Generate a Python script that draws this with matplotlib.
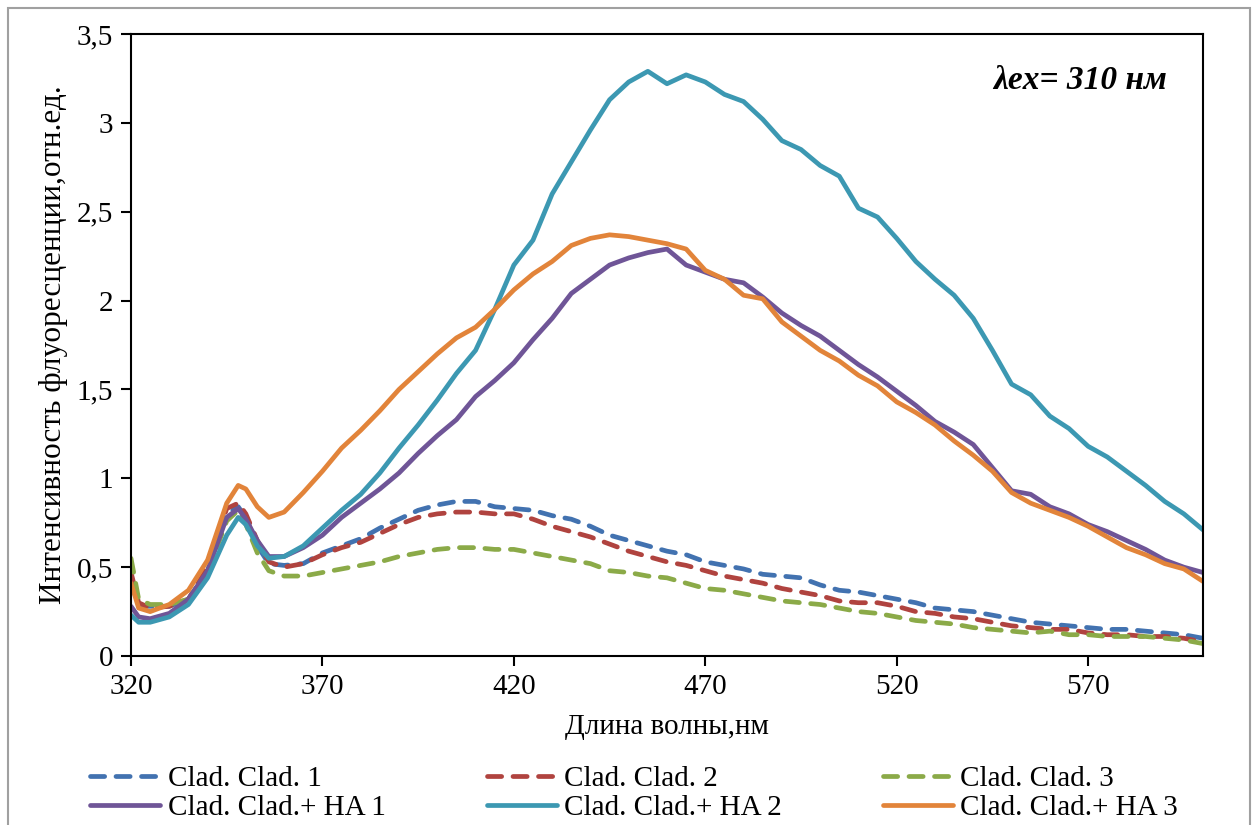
import matplotlib
matplotlib.use("Agg")
import matplotlib.pyplot as plt
from matplotlib.ticker import FuncFormatter, MultipleLocator
from matplotlib.patches import Rectangle

plt.rcParams['font.family'] = ['Liberation Serif', 'DejaVu Serif']

# wavelength grid, nm
wavelength = [320, 322, 325, 330, 335, 340, 345, 348, 350, 353, 356, 360, 365,
              370, 375, 380, 385, 390, 395, 400, 405, 410, 415, 420, 425, 430,
              435, 440, 445, 450, 455, 460, 465, 470, 475, 480, 485, 490, 495,
              500, 505, 510, 515, 520, 525, 530, 535, 540, 545, 550, 555, 560,
              565, 570, 575, 580, 585, 590, 595, 600]

clad_1 = [0.42, 0.28, 0.28, 0.28, 0.32, 0.48, 0.80, 0.84, 0.78, 0.62, 0.52, 0.51, 0.52,
          0.58, 0.62, 0.66, 0.72, 0.77, 0.82, 0.85, 0.87, 0.87, 0.84, 0.83, 0.82, 0.79,
          0.77, 0.73, 0.68, 0.65, 0.62, 0.59, 0.57, 0.53, 0.51, 0.49, 0.46, 0.45, 0.44,
          0.40, 0.37, 0.36, 0.34, 0.32, 0.30, 0.27, 0.26, 0.25, 0.23, 0.21, 0.19, 0.18,
          0.17, 0.16, 0.15, 0.15, 0.14, 0.13, 0.12, 0.10]

clad_2 = [0.47, 0.30, 0.27, 0.28, 0.32, 0.50, 0.83, 0.86, 0.80, 0.65, 0.53, 0.50, 0.52,
          0.57, 0.61, 0.64, 0.69, 0.74, 0.78, 0.80, 0.81, 0.81, 0.80, 0.80, 0.77, 0.73,
          0.70, 0.67, 0.63, 0.59, 0.56, 0.53, 0.51, 0.48, 0.45, 0.43, 0.41, 0.38, 0.36,
          0.34, 0.31, 0.30, 0.30, 0.28, 0.25, 0.24, 0.22, 0.21, 0.19, 0.17, 0.16, 0.15,
          0.15, 0.13, 0.12, 0.12, 0.11, 0.11, 0.10, 0.08]

clad_3 = [0.55, 0.32, 0.29, 0.29, 0.32, 0.47, 0.76, 0.82, 0.74, 0.58, 0.48, 0.45, 0.45,
          0.47, 0.49, 0.51, 0.53, 0.56, 0.58, 0.60, 0.61, 0.61, 0.60, 0.60, 0.58, 0.56,
          0.54, 0.52, 0.48, 0.47, 0.45, 0.44, 0.41, 0.38, 0.37, 0.35, 0.33, 0.31, 0.30,
          0.29, 0.27, 0.25, 0.24, 0.22, 0.20, 0.19, 0.18, 0.16, 0.15, 0.14, 0.13, 0.14,
          0.12, 0.12, 0.11, 0.11, 0.11, 0.10, 0.09, 0.07]

clad_ha_1 = [0.28, 0.22, 0.21, 0.24, 0.32, 0.48, 0.78, 0.83, 0.77, 0.65, 0.56, 0.56, 0.61,
             0.68, 0.78, 0.86, 0.94, 1.03, 1.14, 1.24, 1.33, 1.46, 1.55, 1.65, 1.78, 1.90,
             2.04, 2.12, 2.20, 2.24, 2.27, 2.29, 2.20, 2.16, 2.12, 2.10, 2.02, 1.93, 1.86,
             1.80, 1.72, 1.64, 1.57, 1.49, 1.41, 1.32, 1.26, 1.19, 1.06, 0.93, 0.91, 0.84,
             0.80, 0.74, 0.70, 0.65, 0.60, 0.54, 0.50, 0.47]

clad_ha_2 = [0.23, 0.19, 0.19, 0.22, 0.29, 0.44, 0.68, 0.78, 0.74, 0.62, 0.55, 0.56, 0.62,
             0.72, 0.82, 0.91, 1.03, 1.17, 1.30, 1.44, 1.59, 1.72, 1.95, 2.20, 2.34, 2.60,
             2.78, 2.96, 3.13, 3.23, 3.29, 3.22, 3.27, 3.23, 3.16, 3.12, 3.02, 2.90, 2.85,
             2.76, 2.70, 2.52, 2.47, 2.35, 2.22, 2.12, 2.03, 1.90, 1.72, 1.53, 1.47, 1.35,
             1.28, 1.18, 1.12, 1.04, 0.96, 0.87, 0.80, 0.71]

clad_ha_3 = [0.41, 0.27, 0.25, 0.29, 0.37, 0.54, 0.86, 0.96, 0.94, 0.84, 0.78, 0.81, 0.92,
             1.04, 1.17, 1.27, 1.38, 1.50, 1.60, 1.70, 1.79, 1.85, 1.95, 2.06, 2.15, 2.22,
             2.31, 2.35, 2.37, 2.36, 2.34, 2.32, 2.29, 2.17, 2.12, 2.03, 2.01, 1.88, 1.80,
             1.72, 1.66, 1.58, 1.52, 1.43, 1.37, 1.30, 1.21, 1.13, 1.04, 0.92, 0.86, 0.82,
             0.78, 0.73, 0.67, 0.61, 0.57, 0.52, 0.49, 0.42]

labels_dashed = ['Clad. Clad. 1', 'Clad. Clad. 2', 'Clad. Clad. 3']
labels_solid = ['Clad. Clad.+ HA 1', 'Clad. Clad.+ HA 2', 'Clad. Clad.+ HA 3']
colors_dashed = ['#4272B0', '#B0433F', '#8BAA48']
colors_solid = ['#6F5597', '#3C98B2', '#E2843A']

fs = 21

fig = plt.figure(figsize=(12.56, 8.25), dpi=100)
ax = fig.add_axes([0.1043, 0.2048, 0.8535, 0.7540])

# gray outer chart border
fig.patches.append(Rectangle((0.006, -0.05), 0.989, 1.04, transform=fig.transFigure,
                             fill=False, edgecolor='#a0a0a0', linewidth=1.5))

lw = 3.4
dashed_lines = []
for series, color, label in zip([clad_1, clad_2, clad_3], colors_dashed, labels_dashed):
    line, = ax.plot(wavelength, series, color=color, lw=lw, label=label,
                    dashes=(3.0, 2.4), dash_capstyle='round', solid_joinstyle='round')
    dashed_lines.append(line)

solid_lines = []
for series, color, label in zip([clad_ha_1, clad_ha_2, clad_ha_3], colors_solid, labels_solid):
    line, = ax.plot(wavelength, series, color=color, lw=lw, label=label,
                    solid_capstyle='round', solid_joinstyle='round')
    solid_lines.append(line)

ax.set_xlim(320, 600)
ax.set_ylim(0, 3.5)
ax.set_xticks([320, 370, 420, 470, 520, 570])
ax.yaxis.set_major_locator(MultipleLocator(0.5))
ax.yaxis.set_major_formatter(FuncFormatter(lambda v, p: f'{v:g}'.replace('.', ',')))
ax.tick_params(direction='out', length=7, width=1.5, labelsize=fs, pad=6)
for sp in ax.spines.values():
    sp.set_linewidth(1.5)

ax.set_xlabel('Длина волны,нм', fontsize=fs, labelpad=10)
ax.set_ylabel('Интенсивность флуоресценции,отн.ед.', fontsize=22.5, labelpad=6)

ax.text(0.966, 0.925, 'λex= 310 нм', transform=ax.transAxes, ha='right', va='center',
        fontsize=24, fontweight='bold', fontstyle='italic')

handles = []
for d, s in zip(dashed_lines, solid_lines):
    handles += [d, s]
fig.legend(handles=handles, labels=[h.get_label() for h in handles], ncol=3,
           loc='lower left', bbox_to_anchor=(0.072, 0.005, 0.866, 0.09), mode='expand',
           frameon=False, fontsize=fs, handlelength=2.4, handletextpad=0.25,
           labelspacing=0.08, borderaxespad=0.0, borderpad=0.0)

fig.savefig('out.png', dpi=100)
